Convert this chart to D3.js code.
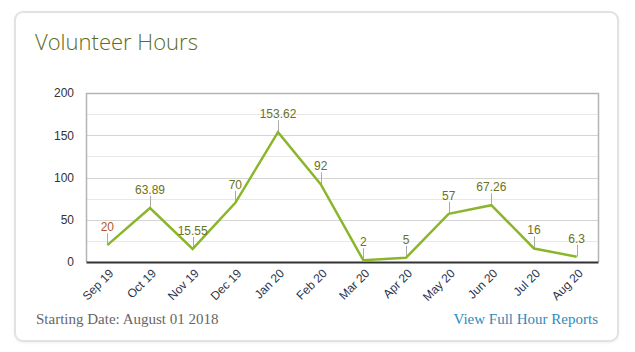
<!DOCTYPE html>
<html lang="en">
<head>
<meta charset="UTF-8">
<title>Volunteer Hours</title>
<script src="https://d3js.org/d3.v7.min.js"></script>
<style>
    body {
        margin: 0;
        background: #fff;
        font-family: Arial, 'Liberation Sans', sans-serif;
    }
    .card {
        position: absolute;
        left: 14px;
        top: 11px;
        width: 601px;
        height: 327px;
        border: 2px solid #e2e2e2;
        border-radius: 9px;
        box-shadow: 0 1px 3px rgba(0,0,0,0.06);
        background: #fff;
    }
    svg {
        position: absolute;
        left: 0;
        top: 0;
    }
</style>
</head>
<body>
<div class="card"></div>
<svg width="635" height="352"></svg>
<script>
// months shown on the x axis
var months = ["Sep 19", "Oct 19", "Nov 19", "Dec 19", "Jan 20", "Feb 20",
              "Mar 20", "Apr 20", "May 20", "Jun 20", "Jul 20", "Aug 20"];
// hours per month
var hours = [20, 63.89, 15.55, 70, 153.62, 92, 2, 5, 57, 67.26, 16, 6.3];
var yTicks = [0, 50, 100, 150, 200];
var gridTicks = [25, 50, 75, 100, 125, 150, 175];

var plot = {left: 86, right: 598, top: 93, bottom: 262};

var svg = d3.select("svg");

var x = d3.scaleBand()
    .domain(months)
    .range([plot.left, plot.right]);

var y = d3.scaleLinear()
    .domain([0, 200])
    .range([plot.bottom, plot.top]);

// title
svg.append("text")
    .attr("x", 35)
    .attr("y", 50)
    .attr("font-family", "'Open Sans', sans-serif")
    .attr("font-weight", 300)
    .attr("font-size", 22)
    .attr("fill", "#5b6b22")
    .text("Volunteer Hours");

// gridlines
svg.append("g").selectAll("line")
    .data(gridTicks)
    .join("line")
    .attr("x1", plot.left)
    .attr("x2", plot.right)
    .attr("y1", function(d) { return Math.round(y(d)) + 0.5; })
    .attr("y2", function(d) { return Math.round(y(d)) + 0.5; })
    .attr("stroke", function(d) { return d % 50 === 0 ? "#d4d4d4" : "#e8e8e8"; })
    .attr("stroke-width", 1);

// frame
svg.append("path")
    .attr("d", "M" + (plot.left + 0.5) + "," + plot.bottom +
        "V" + (plot.top + 0.5) + "H" + (plot.right + 0.5) + "V" + plot.bottom)
    .attr("fill", "none")
    .attr("stroke", "#b4b4b4")
    .attr("stroke-width", 1.5);

// y axis
var yAxis = svg.append("g")
    .attr("transform", "translate(" + plot.left + ",0)")
    .call(d3.axisLeft(y).tickValues(yTicks).tickSize(0).tickPadding(12));
yAxis.select(".domain").remove();
yAxis.selectAll("text")
    .attr("font-family", "Arial, 'Liberation Sans', sans-serif")
    .attr("font-size", 12)
    .attr("fill", "#333");

// x axis
var xAxis = svg.append("g")
    .attr("transform", "translate(0," + plot.bottom + ")")
    .call(d3.axisBottom(x).tickSize(0).tickPadding(0));
xAxis.select(".domain")
    .attr("stroke", "#333")
    .attr("stroke-width", 2);
xAxis.selectAll("text")
    .attr("font-family", "Arial, 'Liberation Sans', sans-serif")
    .attr("font-size", 12)
    .attr("fill", "#2b3550")
    .attr("text-anchor", "end")
    .attr("dy", 0)
    .attr("transform", "translate(7,12) rotate(-45)");

// line
var line = d3.line()
    .x(function(d, i) { return x(months[i]) + x.bandwidth() / 2; })
    .y(function(d) { return y(d); });

// leader lines
svg.append("g").selectAll("line")
    .data(hours)
    .join("line")
    .attr("x1", function(d, i) { return Math.round(x(months[i]) + x.bandwidth() / 2) + 0.5; })
    .attr("x2", function(d, i) { return Math.round(x(months[i]) + x.bandwidth() / 2) + 0.5; })
    .attr("y1", function(d) { return y(d); })
    .attr("y2", function(d) { return y(d) - 12; })
    .attr("stroke", "#aaa")
    .attr("stroke-width", 1);

svg.append("path")
    .datum(hours)
    .attr("d", line)
    .attr("fill", "none")
    .attr("stroke", "#8bb62c")
    .attr("stroke-width", 2.5)
    .attr("stroke-linejoin", "miter");

// value labels
svg.append("g").selectAll("text")
    .data(hours)
    .join("text")
    .attr("x", function(d, i) { return x(months[i]) + x.bandwidth() / 2; })
    .attr("y", function(d) { return y(d) - 14; })
    .attr("text-anchor", "middle")
    .attr("font-family", "Arial, 'Liberation Sans', sans-serif")
    .attr("font-size", 12)
    .attr("fill", function(d, i) { return i === 0 ? "#b0582c" : "#6a7320"; })
    .text(function(d) { return d; });

// footer
svg.append("text")
    .attr("x", 36)
    .attr("y", 324)
    .attr("font-family", "'Liberation Serif', serif")
    .attr("font-size", 15)
    .attr("fill", "#666")
    .text("Starting Date: August 01 2018");

svg.append("text")
    .attr("x", 598)
    .attr("y", 324)
    .attr("text-anchor", "end")
    .attr("font-family", "'Liberation Serif', serif")
    .attr("font-size", 15)
    .attr("fill", "#2d8bc0")
    .text("View Full Hour Reports");
</script>
</body>
</html>
